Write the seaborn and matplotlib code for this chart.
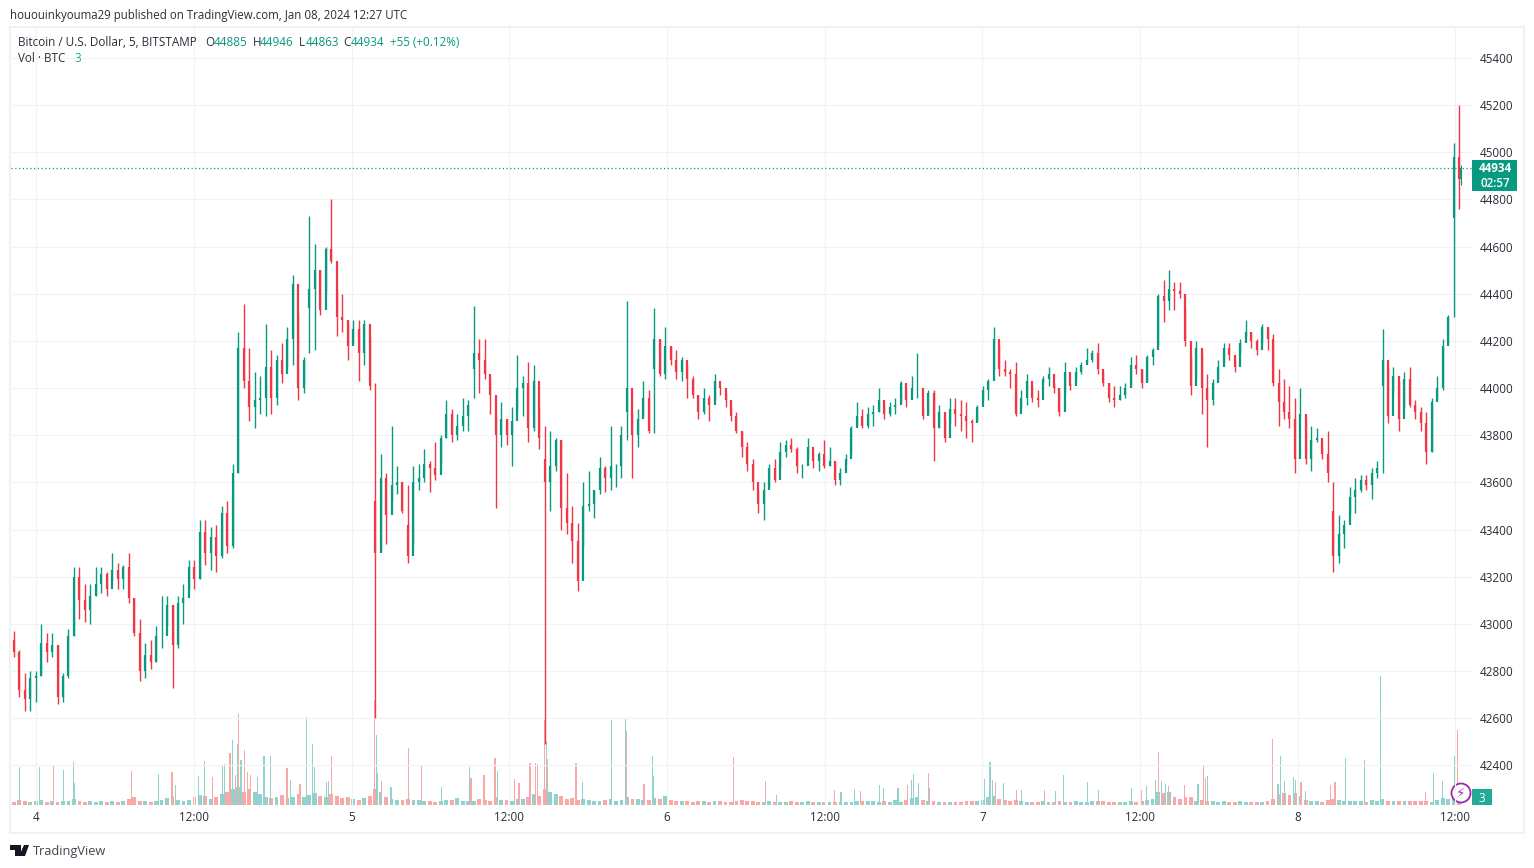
"""BTC/USD 5 minute candles with volume, TradingView look."""

import matplotlib

matplotlib.use("Agg")

import matplotlib.pyplot as plt
import numpy as np
import pandas as pd
import seaborn as sns
from matplotlib.patches import Circle, Polygon, Rectangle

# candles in 25 minute groups
first_open = 42930
highs = [
    42970, 42890, 42790, 42800, 42800, 43000, 42960, 42960, 42910, 42790,
    42980, 43240, 43240, 43170, 43170, 43240, 43240, 43220, 43300, 43260,
    43250, 43300, 43110, 43020, 42920, 42930, 42990, 43120, 43120, 43080,
    43120, 43170, 43270, 43270, 43440, 43440, 43410, 43420, 43500, 43520,
    43680, 44240, 44355, 44170, 44070, 44050, 44270, 44160, 44140, 44190,
    44260, 44480, 44320, 44130, 44730, 44610, 44500, 44600, 44800, 44420,
    44400, 44280, 44290, 44290, 44290, 44220, 44020, 43720, 43640, 43840,
    43670, 43600, 43590, 43670, 43680, 43740, 43690, 43770, 43800, 43950,
    43910, 43890, 43960, 43950, 44350, 44210, 44210, 44040, 43880, 43940,
    43870, 43920, 44140, 44050, 44110, 44100, 43920, 43840, 43820, 43790,
    43780, 43640, 43500, 43430, 43600, 43650, 43570, 43710, 43670, 43840,
    43680, 43840, 44370, 43900, 43910, 44030, 43990, 44340, 44210, 44260,
    44180, 44160, 44130, 44100, 44050, 43970, 44000, 43970, 44060, 44010,
    43980, 43920, 43900, 43820, 43770, 43700, 43570, 43600, 43680, 43700,
    43770, 43780, 43790, 43750, 43680, 43790, 43720, 43730, 43780, 43750,
    43690, 43660, 43720, 43840, 43940, 43910, 43920, 43930, 44000, 43930,
    43940, 43960, 44030, 43990, 44050, 44150, 43920, 43990, 43990, 43930,
    43870, 43960, 43960, 43950, 43940, 43870, 43930, 44010, 44040, 44260,
    44180, 44120, 44080, 44110, 43990, 44060, 44010, 43990, 44050, 44090,
    44020, 44000, 44110, 44020, 44090, 44110, 44170, 44160, 44190, 44070,
    44020, 44010, 44010, 44020, 44130, 44140, 44080, 44140, 44170, 44400,
    44460, 44500, 44450, 44450, 44340, 44130, 44200, 44150, 44060, 44040,
    44120, 44190, 44190, 44120, 44210, 44290, 44240, 44210, 44270, 44260,
    44230, 44080, 44040, 44010, 43960, 44000, 43860, 43840, 43830, 43750,
    43820, 43600, 43460, 43440, 43580, 43620, 43630, 43630, 43660, 43690,
    44250, 44090, 44090, 44030, 44070, 44090, 43950, 43920, 43900, 43960,
    44050, 44210, 44310, 45040, 45200,
]
lows = [
    42860, 42690, 42630, 42630, 42670, 42780, 42840, 42860, 42660, 42670,
    42770, 42950, 43020, 43010, 43000, 43120, 43130, 43120, 43180, 43150,
    43150, 43090, 42950, 42760, 42770, 42810, 42840, 42900, 42990, 42730,
    42900, 43000, 43150, 43150, 43190, 43250, 43230, 43220, 43280, 43300,
    43320, 43640, 44000, 43860, 43830, 43890, 43880, 43890, 43930, 44020,
    44090, 44100, 43950, 43980, 44150, 44160, 44310, 44410, 44530, 44220,
    44240, 44120, 44190, 44030, 44100, 43990, 42600, 43310, 43340, 43520,
    43550, 43470, 43260, 43340, 43570, 43600, 43560, 43610, 43680, 43790,
    43770, 43780, 43820, 43820, 43960, 43980, 44040, 43890, 43490, 43750,
    43760, 43670, 43900, 43880, 43770, 43820, 43740, 42490, 43480, 43650,
    43400, 43380, 43260, 43140, 43330, 43480, 43450, 43550, 43560, 43570,
    43580, 43620, 43780, 43620, 43750, 43880, 43810, 43810, 44050, 44040,
    44100, 44040, 44030, 43960, 43960, 43870, 43890, 43860, 43950, 43970,
    43920, 43860, 43810, 43710, 43650, 43570, 43470, 43440, 43580, 43600,
    43660, 43710, 43730, 43640, 43620, 43700, 43660, 43650, 43660, 43670,
    43590, 43590, 43680, 43720, 43840, 43830, 43830, 43840, 43900, 43870,
    43880, 43890, 43940, 43920, 43990, 43960, 43870, 43890, 43690, 43830,
    43770, 43850, 43840, 43820, 43790, 43770, 43860, 43950, 43950, 44080,
    44050, 44050, 44000, 43880, 43920, 43930, 43940, 43920, 44020, 44010,
    43980, 43880, 43980, 43990, 44030, 44060, 44110, 44110, 44060, 44010,
    43940, 43920, 43950, 43960, 44010, 44060, 44000, 44030, 44100, 44180,
    44280, 44330, 44330, 44380, 44180, 43970, 44040, 43890, 43750, 43930,
    44040, 44110, 44120, 44070, 44150, 44220, 44170, 44140, 44190, 44160,
    44010, 43840, 43870, 43830, 43640, 43880, 43680, 43650, 43770, 43700,
    43600, 43220, 43260, 43320, 43470, 43470, 43560, 43570, 43530, 43620,
    43640, 43850, 43980, 43820, 43920, 43920, 43870, 43820, 43680, 43730,
    43950, 43990, 44190, 44300, 44760,
]
closes = [
    42880, 42720, 42680, 42770, 42780, 42920, 42880, 42910, 42690, 42780,
    42950, 43200, 43100, 43060, 43120, 43170, 43210, 43150, 43230, 43190,
    43240, 43110, 42960, 42800, 42870, 42840, 42950, 42950, 43080, 42910,
    43090, 43110, 43240, 43190, 43390, 43300, 43370, 43290, 43470, 43330,
    43640, 44170, 44030, 43920, 43950, 43960, 44090, 43960, 44120, 44060,
    44210, 44440, 44000, 44120, 44420, 44500, 44330, 44590, 44540, 44300,
    44290, 44180, 44250, 44150, 44270, 44010, 43300, 43620, 43460, 43590,
    43600, 43480, 43290, 43600, 43620, 43680, 43660, 43630, 43790, 43890,
    43800, 43840, 43880, 43930, 44150, 44120, 44060, 43970, 43800, 43870,
    43800, 43860, 44000, 44020, 43830, 44030, 43790, 43600, 43670, 43780,
    43490, 43430, 43350, 43180, 43500, 43510, 43570, 43660, 43620, 43670,
    43670, 43800, 44000, 43800, 43870, 43960, 43820, 44210, 44060, 44180,
    44120, 44070, 44120, 44040, 43970, 43900, 43960, 43930, 44030, 44000,
    43950, 43880, 43820, 43750, 43680, 43600, 43510, 43570, 43660, 43610,
    43730, 43760, 43740, 43670, 43670, 43750, 43690, 43720, 43670, 43690,
    43610, 43640, 43700, 43830, 43880, 43840, 43890, 43900, 43950, 43890,
    43920, 43930, 44020, 43950, 44000, 44000, 43880, 43980, 43830, 43900,
    43790, 43910, 43890, 43880, 43860, 43850, 43920, 43990, 44030, 44210,
    44080, 44070, 44060, 43890, 43960, 44030, 43960, 43950, 44040, 44060,
    44000, 43900, 44070, 44010, 44070, 44100, 44120, 44150, 44080, 44020,
    43960, 43950, 43970, 44000, 44100, 44080, 44020, 44130, 44160, 44390,
    44370, 44420, 44410, 44400, 44200, 44010, 44170, 44000, 43950, 44020,
    44090, 44170, 44140, 44090, 44190, 44240, 44200, 44160, 44260, 44210,
    44020, 43940, 43900, 43870, 43700, 43890, 43700, 43780, 43790, 43720,
    43640, 43290, 43380, 43420, 43540, 43570, 43610, 43590, 43640, 43660,
    44120, 43880, 44050, 43870, 44040, 43930, 43900, 43850, 43730, 43940,
    44000, 44180, 44300, 44980, 44885,
]
# groups that are one long thin candle: the open is not the previous close
thin_group = [54, 66, 72, 84, 97, 112, 117, 241, 250, 263]
thin_open = [44340, 43520, 43420, 44080, 43700, 43900, 44080, 43480, 44010, 44720]

# typical volume of each group, BTC
vol_base = [
    1.2, 1.8, 1.4, 1.2, 1.6, 2.0, 1.2, 1.4, 1.0, 1.4,
    1.4, 2.4, 1.6, 1.2, 1.4, 1.2, 1.6, 1.2, 1.4, 1.0,
    1.4, 2.4, 3.0, 1.4, 1.6, 1.2, 1.4, 2.0, 2.6, 3.2,
    2.0, 1.6, 1.8, 3.0, 3.6, 3.2, 2.4, 3.0, 4.0, 5.0,
    6.0, 6.5, 5.0, 6.0, 5.0, 4.0, 3.0, 2.6, 3.0, 3.6,
    2.6, 3.0, 4.0, 3.0, 3.6, 4.5, 3.4, 3.0, 4.0, 3.4,
    2.6, 3.0, 2.4, 2.0, 2.6, 3.4, 6.0, 5.0, 3.0, 2.4,
    2.0, 2.0, 2.4, 2.0, 2.0, 1.6, 1.4, 1.2, 1.6, 2.0,
    2.0, 2.6, 1.6, 1.4, 1.6, 2.4, 2.0, 1.6, 3.0, 2.0,
    1.8, 1.6, 2.4, 2.4, 3.0, 4.0, 3.4, 6.0, 5.0, 4.0,
    3.4, 2.4, 2.6, 2.0, 2.4, 2.0, 1.6, 1.6, 2.0, 2.4,
    1.6, 2.0, 3.0, 2.4, 2.4, 2.0, 1.8, 2.6, 2.4, 3.4,
    1.8, 1.6, 1.4, 1.4, 1.2, 1.4, 1.6, 1.2, 1.4, 1.4,
    1.0, 1.2, 1.4, 2.0, 1.4, 1.6, 1.2, 1.0, 1.4, 1.2,
    1.2, 1.2, 1.4, 1.0, 1.2, 1.4, 1.2, 1.0, 1.0, 1.2,
    1.0, 1.0, 1.0, 1.2, 1.4, 1.4, 1.6, 1.4, 1.2, 1.4,
    1.2, 1.8, 1.2, 2.0, 2.6, 3.0, 2.0, 1.6, 1.4, 1.2,
    1.2, 1.0, 1.2, 1.0, 1.4, 1.4, 1.6, 2.0, 3.0, 3.4,
    2.4, 2.0, 1.6, 2.0, 1.4, 1.2, 1.0, 1.2, 1.4, 1.0,
    1.0, 1.4, 1.0, 1.2, 1.4, 1.2, 1.2, 1.6, 1.6, 1.4,
    1.0, 1.2, 1.0, 1.2, 1.4, 1.2, 1.6, 1.8, 2.4, 5.0,
    4.4, 5.0, 3.0, 2.4, 3.0, 3.0, 1.6, 1.8, 1.4, 1.4,
    1.2, 1.4, 1.2, 1.2, 1.4, 1.2, 1.2, 1.0, 1.2, 1.4,
    2.4, 4.0, 4.5, 3.6, 4.5, 3.4, 2.0, 1.6, 1.4, 1.2,
    2.0, 2.4, 2.0, 1.4, 1.6, 1.4, 1.6, 1.2, 1.8, 1.6,
    2.4, 1.6, 1.4, 1.6, 1.4, 1.6, 1.4, 1.6, 1.4, 1.2,
    2.0, 2.6, 2.4, 6.0, 3.0,
]

# single 5 minute volume spikes: bar number and BTC
up_spike_bar = [
    8, 26, 48, 57, 58, 135, 150, 171, 177, 193, 195, 202, 207, 210, 225,
    231, 237, 255, 270, 275, 277, 288, 290, 334, 335, 347, 393, 419, 444,
    489, 522, 548, 561, 586, 587, 699, 758, 770, 793, 797, 810, 822, 824,
    829, 839, 889, 894, 896, 906, 923, 954, 961, 983, 993, 1023, 1037,
    1045, 1051, 1054, 1084, 1093, 1157, 1159, 1163, 1171, 1173, 1182,
    1219, 1236, 1251, 1299, 1307, 1318, 1319, 1324,
]
up_spike_vol = [
    14.1, 14.1, 13.0, 15.9, 8.1, 11.5, 7.4, 10.7, 16.3, 14.4, 15.2, 24.1,
    22.6, 16.7, 10.4, 18.1, 18.1, 9.3, 32.6, 22.6, 14.1, 8.5, 8.9, 25.9,
    11.9, 6.7, 6.7, 14.1, 12.6, 23.7, 8.5, 31.5, 32.2, 18.1, 10.7, 3.7,
    4.8, 5.9, 7.4, 6.3, 6.3, 9.3, 11.5, 8.1, 6.3, 9.6, 15.9, 9.3, 8.1,
    5.6, 5.2, 11.1, 8.5, 5.6, 6.3, 7.0, 9.3, 8.9, 7.8, 7.8, 10.7, 7.8,
    18.1, 8.9, 10.4, 9.3, 5.2, 17.4, 16.7, 47.8, 11.9, 8.9, 18.1, 52.2,
    3.0,
]
down_spike_bar = [
    39, 110, 147, 184, 200, 205, 208, 213, 216, 219, 252, 264, 293, 312,
    332, 338, 363, 375, 420, 432, 442, 460, 464, 474, 479, 481, 487, 490,
    516, 562, 578, 660, 689, 752, 776, 819, 838, 899, 918, 944, 1032,
    1048, 1057, 1072, 1089, 1091, 1152, 1178, 1205, 1209, 1292, 1321,
]
down_spike_vol = [
    14.4, 12.6, 12.2, 10.4, 19.3, 11.1, 33.7, 20.4, 12.2, 11.1, 13.7, 7.8,
    18.1, 14.8, 38.9, 8.9, 21.1, 14.4, 10.0, 11.1, 17.4, 9.6, 8.1, 15.6,
    15.6, 15.2, 31.5, 17.0, 15.6, 27.4, 7.8, 17.8, 8.9, 5.6, 5.2, 7.4,
    11.9, 8.5, 5.6, 5.6, 5.6, 19.6, 7.0, 7.4, 14.8, 10.0, 24.4, 8.5, 7.4,
    8.5, 4.8, 27.8,
]

# the live candle
last_bar = 1324
last_open, last_high, last_low, last_close = 44885, 44946, 44863, 44934

price_ticks = list(range(42400, 45401, 200))
time_tick_bars = [23, 167, 311, 455, 599, 743, 887, 1031, 1175, 1319]
time_tick_labels = ["4", "12:00", "5", "12:00", "6", "12:00", "7", "12:00", "8", "12:00"]

GREEN = "#089981"
RED = "#f23645"
VOL_GREEN = "#92d2cc"
VOL_RED = "#f8a9a7"
TEAL = "#22ab94"
GRID = "#f2f2f3"
FRAME = "#f0f1f5"
TEXT = "#2a2e39"
FONT = "Open Sans"

W, H = 1534, 868


def fx(x):
    return x / W


def fy(y):
    return 1 - y / H


def label(x, y, text, color=TEXT, size=8.4, **kwargs):
    fig.text(fx(x), fy(y), text, color=color, fontsize=size, va="center", **kwargs)


sns.set_theme(style="white")
plt.rcParams["font.family"] = [FONT, "DejaVu Sans"]

fig = plt.figure(figsize=(W / 100, H / 100), dpi=100, facecolor="white")
# pane runs from px 11 to 1472 across and 28 to 806 down
ax = fig.add_axes([fx(11), fy(806), fx(1461), 778 / H])
ax_vol = ax.twinx()
ax.set_zorder(2)
ax.patch.set_visible(False)

# candles
bars = np.arange(len(closes)) * 5 + 2.5
opens = np.array([first_open] + closes[:-1])
opens[thin_group] = thin_open
closes_arr = np.array(closes)
colors = [GREEN if c >= o else RED for o, c in zip(opens, closes_arr)]
ax.vlines(bars, lows, highs, colors=colors, linewidth=1.0, capstyle="butt")
ax.vlines(bars, opens, closes_arr, colors=colors, linewidth=1.6, capstyle="butt")
ax.vlines(last_bar, last_low, last_high, colors=GREEN, linewidth=0.8)
ax.vlines(last_bar, last_open, last_close, colors=GREEN, linewidth=1.4)
ax.axhline(last_close, color=GREEN, linewidth=0.9, linestyle=(0, (1, 2)))

# volume
base = pd.DataFrame({
    "bar": bars,
    "vol": vol_base,
    "side": ["up" if c == GREEN else "down" for c in colors],
})
sns.barplot(
    data=base, x="bar", y="vol", hue="side", native_scale=True, ax=ax_vol,
    palette={"up": VOL_GREEN, "down": VOL_RED}, dodge=False, width=0.7,
    saturation=1, linewidth=0, legend=False, errorbar=None,
)
sns.barplot(
    x=up_spike_bar, y=up_spike_vol, native_scale=True, ax=ax_vol,
    color=VOL_GREEN, width=1.0, saturation=1, linewidth=0, errorbar=None,
)
sns.barplot(
    x=down_spike_bar, y=down_spike_vol, native_scale=True, ax=ax_vol,
    color=VOL_RED, width=0.55, saturation=1, linewidth=0, errorbar=None,
)
ax_vol.set_ylim(-0.37, 287.8)
ax_vol.set_yticks([])
ax_vol.set_ylabel("")
ax_vol.set_xlabel("")

# axes, grid
ax.set_xlim(0, 1334.2)
ax.set_ylim(42228, 45527)
ax.set_yticks(price_ticks)
ax.set_xticks(time_tick_bars)
ax.set_xticklabels(time_tick_labels)
ax.yaxis.tick_right()
ax.tick_params(axis="y", length=0, pad=5.8, labelsize=8.4, labelcolor=TEXT)
ax.tick_params(axis="x", length=0, pad=3.6, labelsize=8.4, labelcolor=TEXT)
ax.grid(True, color=GRID, linewidth=0.8)
ax.set_axisbelow(True)
for a in (ax, ax_vol):
    for spine in a.spines.values():
        spine.set_visible(False)

# outer frame
fig.add_artist(Rectangle((fx(10), fy(833)), fx(1514), 806 / H, transform=fig.transFigure,
                         facecolor="none", edgecolor=FRAME, linewidth=1.5))

# header and legend
label(10, 15, "hououinkyouma29 published on TradingView.com, Jan 08, 2024 12:27 UTC", size=8.3)
label(18, 42, "Bitcoin / U.S. Dollar, 5, BITSTAMP", size=8.5)
for x, text, color in [
    (205.5, "O", TEXT), (214, "44885", GREEN),
    (252.5, "H", TEXT), (260, "44946", GREEN),
    (299, "L", TEXT), (306, "44863", GREEN),
    (343.5, "C", TEXT), (351, "44934", GREEN),
    (390, "+55 (+0.12%)", GREEN),
]:
    label(x, 42, text, color=color)
label(18, 59, "Vol · BTC")
label(74, 59, "3", color=TEAL)

# last price tag
fig.add_artist(Rectangle((fx(1472), fy(191)), fx(45), 31 / H, transform=fig.transFigure,
                         facecolor=GREEN, edgecolor="none"))
label(1495.5, 169, "44934", color="white", ha="center", fontweight="bold")
label(1495.5, 183.5, "02:57", color="white", ha="center", fontweight="semibold")

# volume tag and lightning marker
fig.add_artist(Rectangle((fx(1472), fy(805)), fx(20), 16 / H, transform=fig.transFigure,
                         facecolor=TEAL, edgecolor="none"))
label(1482, 798, "3", color="white", ha="center")
marker = Circle((1461, H - 793), 9.5, transform=None, facecolor="white",
                edgecolor="#9c27b0", linewidth=1.3)
fig.add_artist(marker)
fig.text(fx(1461), fy(793), "\u26a1", color="#9c27b0", fontsize=9.5, ha="center", va="center",
         family="DejaVu Sans", fontweight="bold")

# logo
for points in [
    [(10, 845), (21, 845), (21, 856), (15, 856), (15, 850), (10, 850)],
    [(24, 845), (29, 845), (25, 856), (19, 856)],
]:
    fig.add_artist(Polygon([(fx(x), fy(y)) for x, y in points], closed=True,
                           transform=fig.transFigure, facecolor="#131722", edgecolor="none"))
label(33, 851, "TradingView", size=9.2, color="#434651")

fig.savefig("out.png", dpi=100, facecolor="white")
plt.close(fig)
